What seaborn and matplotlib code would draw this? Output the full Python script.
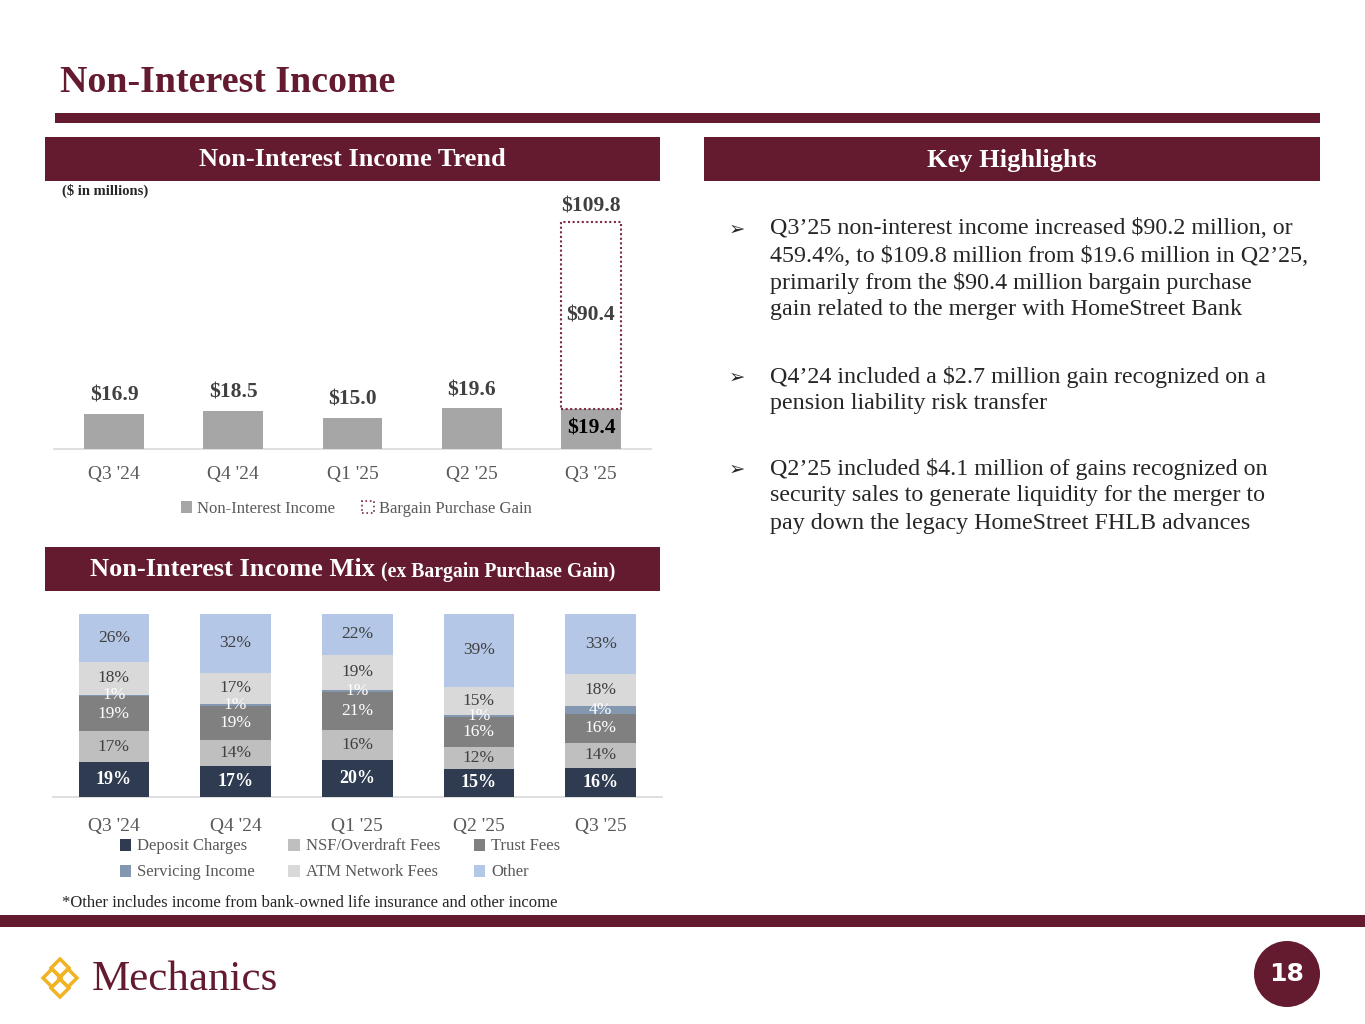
import numpy as np
import pandas as pd
import matplotlib
matplotlib.use("Agg")
import matplotlib.pyplot as plt
import seaborn as sns
from matplotlib.patches import Rectangle, Circle, Patch, Polygon

# ---------------- data ----------------
quarters = ["Q3 '24", "Q4 '24", "Q1 '25", "Q2 '25", "Q3 '25"]
non_interest_income = [16.9, 18.5, 15.0, 19.6, 19.4]
bargain_purchase_gain = [0.0, 0.0, 0.0, 0.0, 90.4]
total_income = [16.9, 18.5, 15.0, 19.6, 109.8]

mix_series = ["Deposit Charges", "NSF/Overdraft Fees", "Trust Fees",
              "Servicing Income", "ATM Network Fees", "Other"]
deposit_charges = [19, 17, 20, 15, 16]
nsf_overdraft_fees = [17, 14, 16, 12, 14]
trust_fees = [19, 19, 21, 16, 16]
servicing_income = [1, 1, 1, 1, 4]
atm_network_fees = [18, 17, 19, 15, 18]
other_income = [26, 32, 22, 39, 33]

highlights = [
    ["Q3\u201925 non-interest income increased $90.2 million, or",
     "459.4%, to $109.8 million from $19.6 million in Q2\u201925,",
     "primarily from the $90.4 million bargain purchase",
     "gain related to the merger with HomeStreet Bank"],
    ["Q4\u201924 included a $2.7 million gain recognized on a",
     "pension liability risk transfer"],
    ["Q2\u201925 included $4.1 million of gains recognized on",
     "security sales to generate liquidity for the merger to",
     "pay down the legacy HomeStreet FHLB advances"],
]

# ---------------- style ----------------
sns.set_theme(style="white")
SERIF = ["Liberation Serif", "DejaVu Serif"]
plt.rcParams["font.family"] = SERIF
plt.rcParams["text.parse_math"] = False
MAROON = "#641A2F"
BAR_GRAY = "#A6A6A6"
TXT = "#404040"
TICK = "#595959"
mix_colors = ["#2E3B50", "#BFBFBF", "#808080", "#8497B0", "#D9D9D9", "#B4C7E7"]
mix_label_colors = ["white", "#404040", "white", "white", "#404040", "#404040"]

W, H = 1365, 1024
fig = plt.figure(figsize=(13.65, 10.24), dpi=100)
fig.patch.set_facecolor("white")


def add_ax(x0, y0, x1, y1):
    return fig.add_axes([x0 / W, 1 - y1 / H, (x1 - x0) / W, (y1 - y0) / H])


def fx(x):
    return x / W


def fy(y):
    return 1 - y / H


# background / layout layer in pixel coordinates
bg = fig.add_axes([0, 0, 1, 1])
bg.set_xlim(0, W)
bg.set_ylim(H, 0)
bg.axis("off")

bg.text(60, 83, "Non-Interest Income", fontsize=27.3, fontweight="bold",
        color=MAROON, va="center", ha="left")
bg.add_patch(Rectangle((55, 113), 1265, 10, color=MAROON, lw=0))

for (x0, y0, w, label) in [(45, 137, 615, "Non-Interest Income Trend"),
                           (704, 137, 616, "Key Highlights")]:
    bg.add_patch(Rectangle((x0, y0), w, 44, color=MAROON, lw=0))
    bg.text(x0 + w / 2, y0 + 23, label, fontsize=19, fontweight="bold",
            color="white", ha="center", va="center")

bg.add_patch(Rectangle((45, 547), 615, 44, color=MAROON, lw=0))
bg.text(375, 570, "Non-Interest Income Mix", fontsize=19, fontweight="bold",
        color="white", ha="right", va="center")
bg.text(381, 572, "(ex Bargain Purchase Gain)", fontsize=14.2, fontweight="bold",
        color="white", ha="left", va="center")

bg.text(62, 191, "($ in millions)", fontsize=10.5, fontweight="bold",
        color="#262626", ha="left", va="center")

bg.text(62, 903, "*Other includes income from bank-owned life insurance and other income",
        fontsize=12, color="#262626", ha="left", va="center")

bg.add_patch(Rectangle((0, 915), W, 12, color=MAROON, lw=0))

# highlights
line_gap = 27
starts = [229, 377, 469]
for y0, lines in zip(starts, highlights):
    bg.text(729, y0, "\u27A2", fontsize=14, color="#262626", ha="left", va="center",
            family=["DejaVu Sans"])
    for j, line in enumerate(lines):
        bg.text(770, y0 + j * line_gap, line, fontsize=17.3, color="#262626",
                ha="left", va="center")

# logo
gold = "#F0B323"
for (cx, cy) in [(52, 978), (68, 978), (60, 968), (60, 988)]:
    d = 9
    bg.add_patch(Polygon([(cx, cy - d), (cx + d, cy), (cx, cy + d), (cx - d, cy)],
                         closed=True, fill=False, edgecolor=gold, lw=2.5))
bg.text(92, 980, "Mechanics", fontsize=31, color=MAROON, ha="left", va="center")

# page number
bg.add_patch(Circle((1287, 974), 33, color=MAROON, lw=0))
bg.text(1287, 974, "18", fontsize=18, fontweight="bold", color="white",
        ha="center", va="center", family=["DejaVu Sans"])

# ---------------- chart 1: trend ----------------
ax1 = add_ax(54.4, 200, 650.6, 449)
ax1.set_facecolor("none")
df1 = pd.DataFrame({"Quarter": quarters, "Income": non_interest_income})
sns.barplot(data=df1, x="Quarter", y="Income", color=BAR_GRAY, saturation=1,
            width=0.5, ax=ax1, zorder=3, linewidth=0, edgecolor="none")
for i, (base, gain) in enumerate(zip(non_interest_income, bargain_purchase_gain)):
    if gain > 0:
        ax1.bar(i, gain, bottom=base, width=0.5, fill=False, edgecolor="#7B2C3F",
                linestyle=(0, (1, 1.2)), linewidth=1.5, zorder=4)
        ax1.text(i, base / 2, f"${base:.1f}", ha="center", va="center",
                 fontsize=15.5, fontweight="bold", color="black", zorder=5)
        ax1.text(i, base + gain / 2, f"${gain:.1f}", ha="center", va="center",
                 fontsize=15.5, fontweight="bold", color=TXT, zorder=5)
        ax1.annotate(f"${total_income[i]:.1f}", (i, total_income[i]),
                     xytext=(0, 11), textcoords="offset points", ha="center",
                     va="center", fontsize=15.5, fontweight="bold", color=TXT)
    else:
        ax1.annotate(f"${base:.1f}", (i, base), xytext=(0, 13),
                     textcoords="offset points", ha="center", va="center",
                     fontsize=15.5, fontweight="bold", color=TXT)

ax1.set_xlim(-0.5, 4.5)
ax1.set_ylim(0, 120.3)
ax1.set_yticks([])
ax1.set_xlabel("")
ax1.set_ylabel("")
for s in ["top", "left", "right"]:
    ax1.spines[s].set_visible(False)
ax1.spines["bottom"].set_color("#D9D9D9")
ax1.spines["bottom"].set_linewidth(1.2)
ax1.tick_params(axis="x", length=0, pad=12, labelsize=14, labelcolor=TICK)

h1 = [Patch(facecolor=BAR_GRAY, edgecolor="none"),
      Patch(facecolor="none", edgecolor="#7B2C3F", linestyle=":", linewidth=1.2)]
ax1.legend(h1, ["Non-Interest Income", "Bargain Purchase Gain"], loc="center",
           bbox_to_anchor=(fx(356), fy(509)), bbox_transform=fig.transFigure,
           ncol=2, frameon=False, fontsize=12, labelcolor=TICK,
           handlelength=0.7, handleheight=0.7, handletextpad=0.3,
           columnspacing=1.6)

# ---------------- chart 2: mix ----------------
ax2 = add_ax(53, 614, 661.5, 797)
ax2.set_facecolor("none")
mix = np.array([deposit_charges, nsf_overdraft_fees, trust_fees,
                servicing_income, atm_network_fees, other_income], dtype=float)
norm = mix / mix.sum(axis=0) * 100
cum = norm.cumsum(axis=0)
for k in range(len(mix_series) - 1, -1, -1):
    dfk = pd.DataFrame({"Quarter": quarters, "Cum": cum[k]})
    sns.barplot(data=dfk, x="Quarter", y="Cum", color=mix_colors[k],
                saturation=1, width=0.58, ax=ax2, zorder=3,
                linewidth=0, edgecolor="none")
for k in range(len(mix_series)):
    for i in range(len(quarters)):
        yc = cum[k, i] - norm[k, i] / 2
        ax2.text(i, yc, f"{int(mix[k, i])}%", ha="center", va="center",
                 fontsize=13 if k == 0 else 12.5,
                 fontweight="bold" if k == 0 else "normal",
                 color=mix_label_colors[k], zorder=5)

ax2.set_xlim(-0.5, 4.5)
ax2.set_ylim(0, 100)
ax2.set_yticks([])
ax2.set_xlabel("")
ax2.set_ylabel("")
for s in ["top", "left", "right"]:
    ax2.spines[s].set_visible(False)
ax2.spines["bottom"].set_color("#D9D9D9")
ax2.spines["bottom"].set_linewidth(1.2)
ax2.tick_params(axis="x", length=0, pad=15, labelsize=14, labelcolor=TICK)

order = [0, 3, 1, 4, 2, 5]
h2 = [Patch(facecolor=mix_colors[k], edgecolor="none") for k in order]
ax2.legend(h2, [mix_series[k] for k in order], loc="center",
           bbox_to_anchor=(fx(340), fy(859.5)), bbox_transform=fig.transFigure,
           ncol=3, frameon=False, fontsize=12, labelcolor=TICK,
           handlelength=0.7, handleheight=0.7, handletextpad=0.35,
           columnspacing=2.0, labelspacing=0.6)

fig.savefig("out.png", dpi=100, facecolor="white")
